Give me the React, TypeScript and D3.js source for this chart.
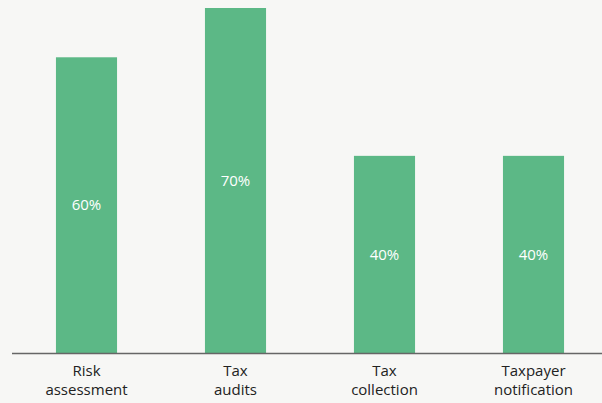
import React from "react";
import * as d3 from "d3";

const categories = [["Risk", "assessment"], ["Tax", "audits"], ["Tax", "collection"], ["Taxpayer", "notification"]];
const values = [60, 70, 40, 40];
const labels = ["60%", "70%", "40%", "40%"];

const W = 602, H = 403;

export default function App() {
  const keys = categories.map((c) => c.join(" "));
  const x = d3.scaleBand<string>().domain(keys).range([12, 608]).paddingInner(0.59).paddingOuter(0.295);
  const y = d3.scaleLinear().domain([0, 70]).range([353, 8]);
  const font = "'Open Sans', 'Noto Sans', sans-serif";
  return (
    <svg width={W} height={H} style={{ position: "absolute", left: 0, top: 0, background: "#f7f7f5" }}>
      <rect x={0} y={0} width={W} height={H} fill="#f7f7f5" />
      {values.map((v, i) => {
        const k = keys[i];
        const bx = x(k)!;
        const by = y(v);
        return (
          <g key={k}>
            <rect x={bx} y={by} width={x.bandwidth()} height={y(0) - by} fill="#5cb886" />
            <text x={bx + x.bandwidth() / 2} y={(by + y(0)) / 2} dy="0.35em" textAnchor="middle" fill="#ffffff" fontSize={15} fontFamily={font}>
              {labels[i]}
            </text>
            {categories[i].map((line, j) => (
              <text key={j} x={bx + x.bandwidth() / 2} y={376 + j * 19} textAnchor="middle" fill="#222" fontSize={15} fontFamily={font}>
                {line}
              </text>
            ))}
          </g>
        );
      })}
      <line x1={12} x2={602} y1={353.5} y2={353.5} stroke="#666" strokeWidth={1.5} />
    </svg>
  );
}
